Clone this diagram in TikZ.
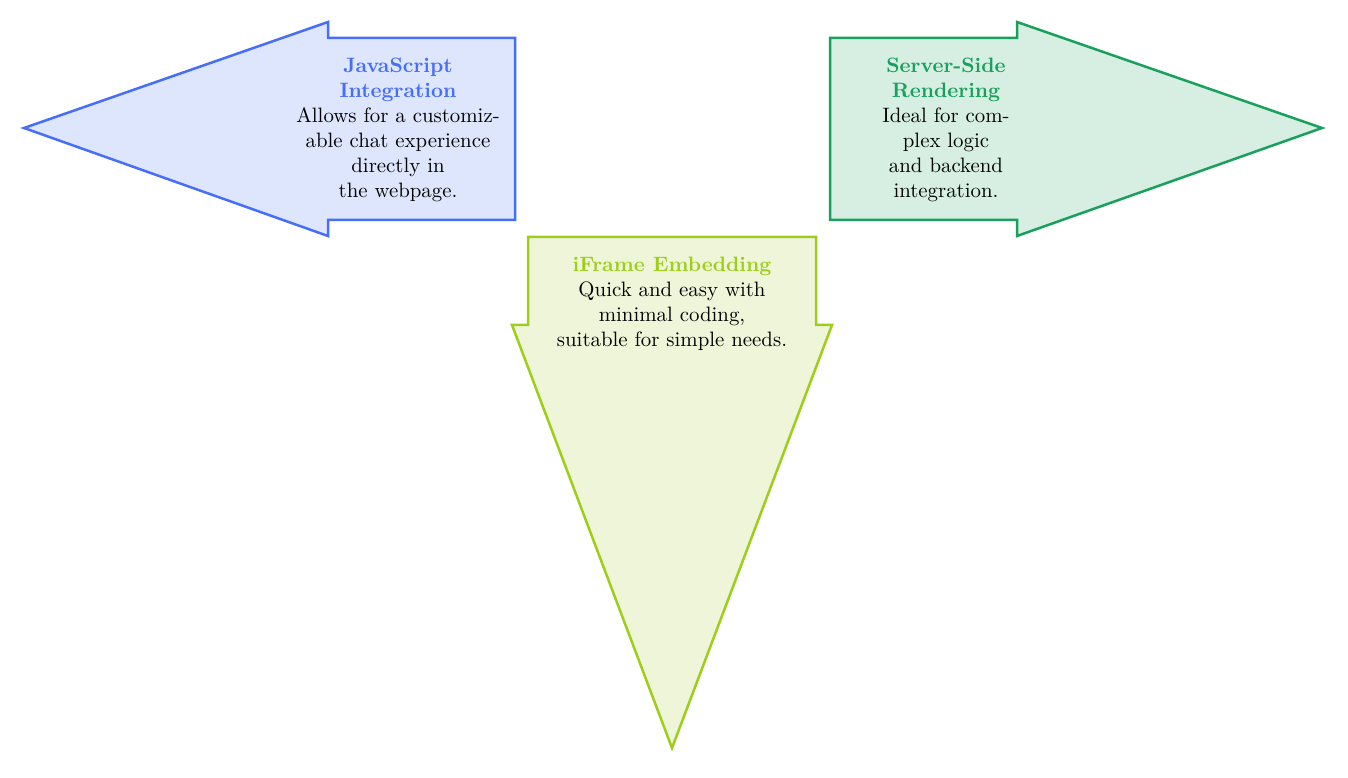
\documentclass[tikz,border=0pt]{standalone}
\usetikzlibrary{positioning}
\definecolor{jsline}{RGB}{70,110,248}
\definecolor{jsfill}{RGB}{222,230,253}
\definecolor{ssline}{RGB}{24,160,92}
\definecolor{ssfill}{RGB}{214,239,226}
\definecolor{ifline}{RGB}{158,206,26}
\definecolor{iffill}{RGB}{238,245,217}
\tikzset{
  arrowshape/.style={line width=1.2pt, line join=miter},
  label text/.style={align=center, inner sep=0pt}
}
\begin{document}
\begin{tikzpicture}[x=0.48pt,y=-0.48pt]
\useasboundingbox (0,0) rectangle (1348,778);
% left arrow (JavaScript)
\draw[arrowshape, draw=jsline, fill=jsfill]
  (24,128) -- (328,22) -- (328,38) -- (515,38) -- (515,220) -- (328,220) -- (328,236) -- cycle;
% right arrow (Server-Side)
\draw[arrowshape, draw=ssline, fill=ssfill]
  (1322,128) -- (1017,22) -- (1017,38) -- (830,38) -- (830,220) -- (1017,220) -- (1017,236) -- cycle;
% down arrow (iFrame)
\draw[arrowshape, draw=ifline, fill=iffill]
  (672,748) -- (512,325) -- (528,325) -- (528,237) -- (816,237) -- (816,325) -- (832,325) -- cycle;
\node[label text] (js) at (398,130)
  {\textcolor{jsline}{\bfseries JavaScript}\\\textcolor{jsline}{\bfseries Integration}\\Allows for a customiz-\\able chat experience\\directly in\\the webpage.};
\node[label text] (ss) at (946,130)
  {\textcolor{ssline}{\bfseries Server-Side}\\\textcolor{ssline}{\bfseries Rendering}\\Ideal for com-\\plex logic\\and backend\\integration.};
\node[label text] (if) at (672,303.5)
  {\textcolor{ifline}{\bfseries iFrame Embedding}\\Quick and easy with\\minimal coding,\\suitable for simple needs.};
\end{tikzpicture}
\end{document}
